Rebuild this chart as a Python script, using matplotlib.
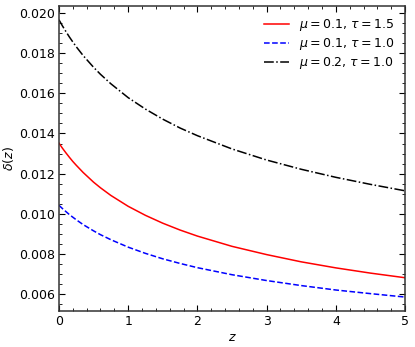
import matplotlib
matplotlib.use("Agg")
import matplotlib.pyplot as plt
from matplotlib.ticker import AutoMinorLocator

# values
z = [0, 0.05, 0.1, 0.15, 0.2, 0.25, 0.35, 0.5, 0.6, 0.75, 1, 1.25, 1.5, 1.75,
     2, 2.5, 3, 3.5, 4, 4.5, 5]
delta_mu01_tau15 = [0.01352, 0.01327, 0.01304, 0.01282, 0.01261, 0.01242, 0.01206,
                    0.01158, 0.01130, 0.01092, 0.01038, 0.00993, 0.00954, 0.00920,
                    0.00890, 0.00839, 0.00798, 0.00762, 0.00732, 0.00706, 0.00683]
delta_mu01_tau10 = [0.01043, 0.01027, 0.01012, 0.00997, 0.00984, 0.00971, 0.00947,
                    0.00916, 0.00897, 0.00872, 0.00835, 0.00804, 0.00777, 0.00754,
                    0.00733, 0.00698, 0.00669, 0.00644, 0.00622, 0.00604, 0.00587]
delta_mu02_tau10 = [0.01965, 0.01935, 0.01907, 0.01880, 0.01855, 0.01831, 0.01787,
                    0.01729, 0.01694, 0.01647, 0.01578, 0.01521, 0.01471, 0.01427,
                    0.01389, 0.01323, 0.01268, 0.01222, 0.01182, 0.01147, 0.01115]

labels = [r"$\mu = 0.1$, $\tau = 1.5$",
          r"$\mu = 0.1$, $\tau = 1.0$",
          r"$\mu = 0.2$, $\tau = 1.0$"]

plt.rcParams["font.size"] = 9

fig = plt.figure(figsize=(4.15, 3.47), dpi=100)
ax = fig.add_axes([0.142, 0.104, 0.834, 0.879])

ax.plot(z, delta_mu01_tau15, color="red", ls="-", lw=1.1, label=labels[0])
ax.plot(z, delta_mu01_tau10, color="blue", ls="--", lw=1.1, label=labels[1])
ax.plot(z, delta_mu02_tau10, color="black", ls="-.", lw=1.1, label=labels[2])

ax.set_xlim(0, 5)
ax.set_xlabel(r"$z$", labelpad=2)
ax.set_ylabel(r"$\delta(z)$", labelpad=2)
ax.xaxis.set_minor_locator(AutoMinorLocator())
ax.yaxis.set_minor_locator(AutoMinorLocator())
ax.tick_params(which="both", direction="in", top=True, right=True)
ax.tick_params(which="major", length=4, pad=3)
ax.tick_params(which="minor", length=2)
for s in ax.spines.values():
    s.set_linewidth(1.1)
    s.set_color("#333333")

ax.legend(loc="upper right", frameon=False, labelspacing=0.25)

fig.savefig("out.png", dpi=100)
